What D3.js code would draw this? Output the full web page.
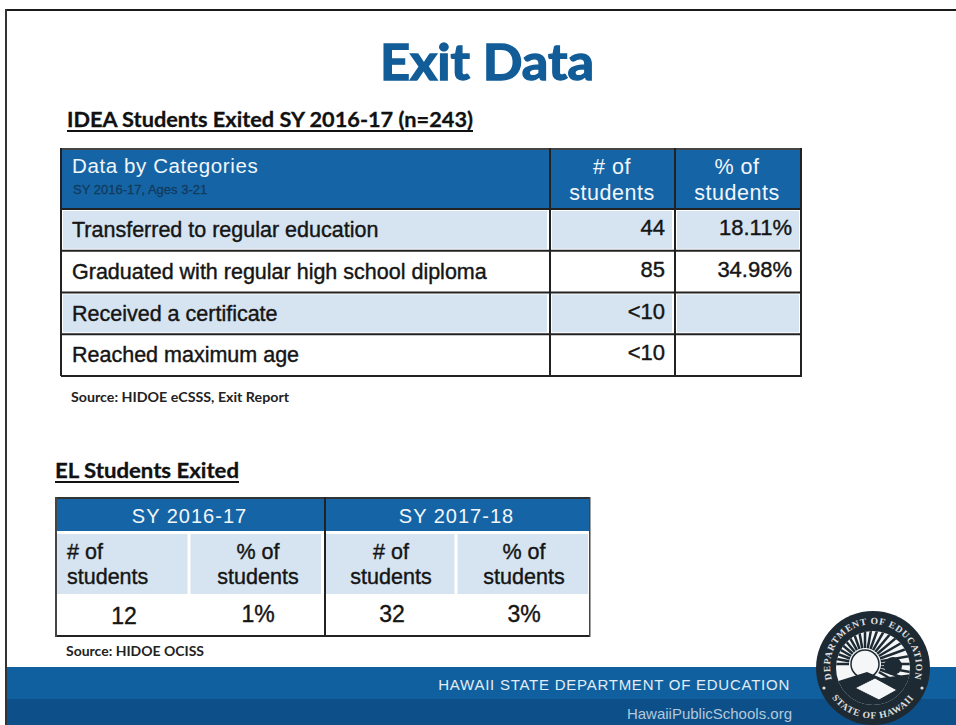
<!DOCTYPE html>
<html>
<head>
<meta charset="utf-8">
<script src="https://cdn.jsdelivr.net/npm/d3@7"></script>
<style>
  body { margin: 0; background: #fff; }
  svg { display: block; }
  .cell { font-family: "Liberation Sans", sans-serif; }
  .dark { stroke: #151515; stroke-width: 0.4px; }
  .head { font-family: Lato, sans-serif; font-weight: 700; }
</style>
</head>
<body>
<svg id="plot" width="956" height="725"></svg>
<script>
// Data
const ideaCategories = ["Transferred to regular education", "Graduated with regular high school diploma", "Received a certificate", "Reached maximum age"];
const ideaCounts = ["44", "85", "<10", "<10"];
const ideaPercents = ["18.11%", "34.98%", "", ""];
const ideaColumns = ["category", "count", "percent"];
const elYears = ["SY 2016-17", "SY 2017-18"];
const elColumns = ["# of", "% of", "# of", "% of"];
const elValues = ["12", "1%", "32", "3%"];

const blue = "#1565a6";
const pale = "#d6e4f2";
const line = "#222";

const svg = d3.select("#plot");
const defs = svg.append("defs");

// Page frame
svg.append("rect").attr("x", 6).attr("y", 9).attr("width", 950).attr("height", 2).attr("fill", "#1a1a1a");
svg.append("rect").attr("x", 5).attr("y", 9).attr("width", 2).attr("height", 716).attr("fill", "#333");

// Titles
svg.append("text").attr("class", "head").attr("x", 487).attr("y", 80)
  .attr("text-anchor", "middle").attr("font-size", 50).attr("fill", "#125c97")
  .attr("stroke", "#125c97").attr("stroke-width", 1.4)
  .attr("textLength", 214).attr("lengthAdjust", "spacingAndGlyphs").text("Exit Data");

function heading(x, y, w, label) {
  svg.append("text").attr("class", "head").attr("x", x).attr("y", y)
    .attr("font-size", 21).attr("fill", "#111").attr("stroke", "#111").attr("stroke-width", 0.3)
    .attr("textLength", w).attr("lengthAdjust", "spacingAndGlyphs").text(label);
  svg.append("rect").attr("x", x).attr("y", y + 3).attr("width", w).attr("height", 2).attr("fill", "#111");
}
heading(67, 127, 406, "IDEA Students Exited SY 2016-17 (n=243)");
heading(55, 478, 184, "EL Students Exited");

// IDEA table
const ideaX = d3.scaleOrdinal().domain(ideaColumns).range([61, 550, 675]);
const ideaW = d3.scaleOrdinal().domain(ideaColumns).range([489, 125, 127]);
const ideaY = d3.scaleBand().domain(ideaCategories).range([209, 376]);
const idea = svg.append("g");

idea.append("rect").attr("x", 61).attr("y", 148).attr("width", 741).attr("height", 61).attr("fill", blue);

const rows = idea.selectAll("g.row").data(ideaCategories).enter().append("g").attr("class", "row");
ideaColumns.forEach(c => {
  rows.append("rect")
    .attr("x", ideaX(c) + 2).attr("y", d => ideaY(d) + 2)
    .attr("width", ideaW(c) - 5).attr("height", ideaY.bandwidth() - 4)
    .attr("fill", (d, i) => i % 2 === 0 ? pale : "#fff");
});
rows.append("text").attr("class", "cell dark").attr("x", 72).attr("y", d => ideaY(d) + 28)
  .attr("font-size", 21.5).attr("fill", "#151515").text(d => d);
rows.append("text").attr("class", "cell dark").attr("x", 665).attr("y", d => ideaY(d) + 26)
  .attr("text-anchor", "end").attr("font-size", 22).attr("fill", "#151515")
  .text((d, i) => ideaCounts[i]);
rows.append("text").attr("class", "cell dark").attr("x", 792).attr("y", d => ideaY(d) + 26)
  .attr("text-anchor", "end").attr("font-size", 22).attr("fill", "#151515")
  .text((d, i) => ideaPercents[i]);

// header text
idea.append("text").attr("class", "cell").attr("x", 72).attr("y", 173)
  .attr("font-size", 20.5).attr("letter-spacing", 0.6).attr("fill", "#f2f6fa").text("Data by Categories");
idea.append("text").attr("class", "cell").attr("x", 73).attr("y", 194)
  .attr("font-size", 13).attr("fill", "#123a5c").attr("stroke", "#123a5c").attr("stroke-width", 0.3)
  .text("SY 2016-17, Ages 3-21");
[["# of", 612], ["% of", 737]].forEach(h => {
  idea.append("text").attr("class", "cell").attr("x", h[1]).attr("y", 174)
    .attr("text-anchor", "middle").attr("font-size", 21.5).attr("letter-spacing", 0.5).attr("fill", "#f2f6fa").text(h[0]);
  idea.append("text").attr("class", "cell").attr("x", h[1]).attr("y", 200)
    .attr("text-anchor", "middle").attr("font-size", 21.5).attr("letter-spacing", 0.5).attr("fill", "#f2f6fa").text("students");
});

// IDEA grid lines
ideaY.domain().concat("end").forEach((d, i) => {
  const y = 209 + i * ideaY.bandwidth();
  idea.append("rect").attr("x", 61).attr("y", y - 1).attr("width", 741).attr("height", 2).attr("fill", line);
});
idea.append("rect").attr("x", 61).attr("y", 148).attr("width", 741).attr("height", 2).attr("fill", "#444");
[61, 550, 675, 801].forEach(x => {
  idea.append("rect").attr("x", x - 1).attr("y", 148).attr("width", 2).attr("height", 228).attr("fill", line);
});

svg.append("text").attr("class", "head").attr("x", 71).attr("y", 402)
  .attr("font-size", 14).attr("fill", "#222")
  .attr("textLength", 218).attr("lengthAdjust", "spacingAndGlyphs").text("Source: HIDOE eCSSS, Exit Report");

// EL table
const elX = d3.scaleBand().domain(d3.range(elColumns.length)).range([56, 590]);
const yearX = d3.scaleBand().domain(elYears).range([56, 590]);
const el = svg.append("g");

el.selectAll("rect.year").data(elYears).enter().append("rect").attr("class", "year")
  .attr("x", d => yearX(d)).attr("y", 498).attr("width", yearX.bandwidth()).attr("height", 33).attr("fill", blue);
el.selectAll("text.year").data(elYears).enter().append("text").attr("class", "cell year")
  .attr("x", d => yearX(d) + yearX.bandwidth() / 2).attr("y", 523)
  .attr("text-anchor", "middle").attr("font-size", 20).attr("letter-spacing", 1).attr("fill", "#f2f6fa").text(d => d);

el.selectAll("rect.sub").data(elColumns).enter().append("rect").attr("class", "sub")
  .attr("x", (d, i) => elX(i) + 1).attr("y", 534)
  .attr("width", elX.bandwidth() - 3).attr("height", 60).attr("fill", pale);

const subCenters = [null, 258, 391, 524];
el.selectAll("text.sub1").data(elColumns).enter().append("text").attr("class", "cell dark")
  .attr("x", (d, i) => i === 0 ? 67 : subCenters[i]).attr("y", 559)
  .attr("text-anchor", (d, i) => i === 0 ? "start" : "middle")
  .attr("font-size", 21.5).attr("fill", "#151515").text(d => d);
el.selectAll("text.sub2").data(elColumns).enter().append("text").attr("class", "cell dark")
  .attr("x", (d, i) => i === 0 ? 67 : subCenters[i]).attr("y", 584)
  .attr("text-anchor", (d, i) => i === 0 ? "start" : "middle")
  .attr("font-size", 21.5).attr("fill", "#151515").text("students");
el.selectAll("text.val").data(elValues).enter().append("text").attr("class", "cell dark")
  .attr("x", (d, i) => [124, 258, 392, 524][i]).attr("y", (d, i) => i === 0 ? 624 : 622)
  .attr("text-anchor", "middle").attr("font-size", 23).attr("fill", "#151515").text(d => d);

// EL grid lines
el.append("rect").attr("x", 55).attr("y", 497).attr("width", 535).attr("height", 2).attr("fill", "#333");
el.append("rect").attr("x", 55).attr("y", 635).attr("width", 535).attr("height", 2).attr("fill", line);
el.append("rect").attr("x", 55).attr("y", 497).attr("width", 2).attr("height", 140).attr("fill", "#444");
el.append("rect").attr("x", 589).attr("y", 497).attr("width", 1.5).attr("height", 140).attr("fill", "#444");
el.append("rect").attr("x", 324).attr("y", 497).attr("width", 2).attr("height", 140).attr("fill", line);

svg.append("text").attr("class", "head").attr("x", 66).attr("y", 656)
  .attr("font-size", 14).attr("fill", "#222")
  .attr("textLength", 138).attr("lengthAdjust", "spacingAndGlyphs").text("Source: HIDOE OCISS");

// Footer band
svg.append("rect").attr("x", 7).attr("y", 667).attr("width", 949).attr("height", 32).attr("fill", "#10609f");
svg.append("rect").attr("x", 7).attr("y", 699).attr("width", 949).attr("height", 26).attr("fill", "#0d5089");

svg.append("text").attr("class", "cell").attr("x", 790).attr("y", 690)
  .attr("text-anchor", "end").attr("font-size", 15).attr("letter-spacing", 0.75).attr("fill", "#e3edf5")
  .text("HAWAII STATE DEPARTMENT OF EDUCATION");
svg.append("text").attr("class", "cell").attr("x", 792).attr("y", 719)
  .attr("text-anchor", "end").attr("font-size", 15).attr("fill", "#b4c8da")
  .text("HawaiiPublicSchools.org");

// Seal
const seal = svg.append("g").attr("transform", "translate(873,668)");
seal.append("circle").attr("r", 57).attr("fill", "#1d2a33");
seal.append("circle").attr("r", 37).attr("fill", "#f4f6f7");
defs.append("path").attr("id", "sealTop").attr("d", "M -41 12 A 43 43 0 1 1 41 12");
defs.append("path").attr("id", "sealBottom").attr("d", "M -43 27 A 51 51 0 0 0 43 27");
seal.append("text").attr("font-family", "Liberation Serif").attr("font-size", 9.5).attr("font-weight", 700).attr("fill", "#e0e0e0").attr("letter-spacing", 0.8)
  .append("textPath").attr("href", "#sealTop").attr("startOffset", "50%").attr("text-anchor", "middle").text("DEPARTMENT OF EDUCATION");
seal.append("text").attr("font-family", "Liberation Serif").attr("font-size", 9.5).attr("font-weight", 700).attr("fill", "#e0e0e0").attr("letter-spacing", 0.8)
  .append("textPath").attr("href", "#sealBottom").attr("startOffset", "50%").attr("text-anchor", "middle").text("STATE OF HAWAII");
// sun rays
const clip = defs.append("clipPath").attr("id", "sealClip");
clip.append("circle").attr("r", 37);
const inner = seal.append("g").attr("clip-path", "url(#sealClip)");
inner.selectAll("line.ray").data(d3.range(-180, 40, 10)).enter().append("line")
  .attr("x1", d => -8 + 16 * Math.cos(d * Math.PI / 180)).attr("y1", d => -4 + 16 * Math.sin(d * Math.PI / 180))
  .attr("x2", d => -8 + 50 * Math.cos(d * Math.PI / 180)).attr("y2", d => -4 + 50 * Math.sin(d * Math.PI / 180))
  .attr("stroke", "#1d2a33").attr("stroke-width", 2.5);
inner.append("circle").attr("cx", -8).attr("cy", -4).attr("r", 14).attr("fill", "#f4f6f7").attr("stroke", "#1d2a33").attr("stroke-width", 1.5);
inner.append("path").attr("d", "M -38 14 L -6 4 L 8 10 L 38 6 L 38 40 L -38 40 Z").attr("fill", "#1d2a33");
inner.append("circle").attr("cx", 20).attr("cy", -2).attr("r", 9).attr("fill", "#1d2a33");
inner.append("path").attr("d", "M -18 20 L 2 10 L 24 22 L 6 32 Z").attr("fill", "#f4f6f7").attr("stroke", "#1d2a33");
seal.selectAll("circle.dot").data([-1, 1]).enter().append("circle")
  .attr("cx", d => d * 49).attr("cy", 20).attr("r", 1.6).attr("fill", "#e0e0e0");
</script>
</body>
</html>
